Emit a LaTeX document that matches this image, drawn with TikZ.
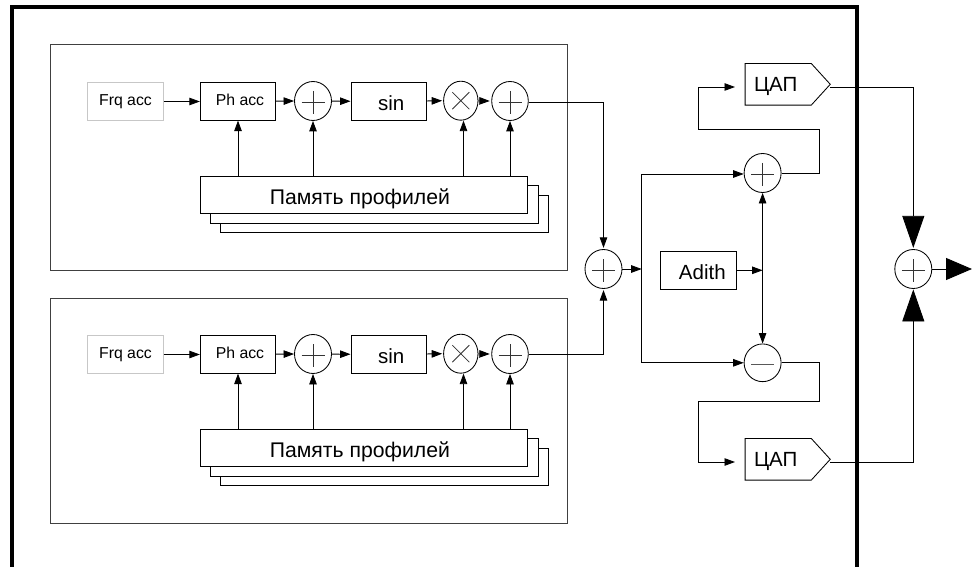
\documentclass[tikz,border=0pt]{standalone}
\usepackage{fontspec}
\setmainfont{Liberation Sans}
\usetikzlibrary{arrows.meta,shapes.geometric,calc}
\tikzset{
  wire/.style={draw=black,line width=0.85pt},
  arr/.style={wire,-{Triangle[length=10.5pt,width=7.5pt]}},
  bigarr/.style={wire,-{Triangle[length=32pt,width=22pt]}},
  frame/.style={draw=black!75,line width=1pt},
  boxbase/.style={wire,rectangle,inner sep=0pt,minimum width=75.5pt,fill=white},
  smallbox/.style={boxbase,font=\fontsize{15.8}{18}\selectfont,text height=22.3pt,text depth=15pt},
  bigbox/.style={boxbase,font=\fontsize{20.5}{24}\selectfont,text height=27.7pt,text depth=9.6pt},
  membox/.style={wire,rectangle,inner sep=0pt,minimum width=327.6pt,minimum height=37.4pt,fill=white},
  dacbox/.style={rectangle,inner sep=0pt,minimum width=84.7pt,text width=84.7pt,align=left,
     font=\fontsize{20.5}{24}\selectfont,text height=28.3pt,text depth=13pt},
  sumcirc/.style={wire,ellipse,inner sep=0pt,minimum width=37pt,minimum height=39pt,fill=white},
  plussign/.style={path picture={
     \draw[line width=0.8pt,black!80] ([xshift=-11.5pt,yshift=-1.5pt]path picture bounding box.center) -- ++(23,0);
     \draw[line width=0.8pt,black!80] ([yshift=10pt]path picture bounding box.center) -- ++(0,23);}},
  timessign/.style={path picture={
     \draw[line width=0.8pt,black!80] ([xshift=-8.5pt,yshift=8.5pt]path picture bounding box.center) -- ++(17,17)
        ([xshift=8.5pt,yshift=8.5pt]path picture bounding box.center) -- ++(-17,17);}},
  minussign/.style={path picture={
     \draw[line width=1pt,black!65] ([xshift=-11.5pt,yshift=-1.5pt]path picture bounding box.center) -- ++(23,0);}},
}
\begin{document}
\begin{tikzpicture}[x=1pt,y=-1pt]
\useasboundingbox (0,0) rectangle (972,567);
\fill[white] (0,0) rectangle (972,567);
\draw[black,line width=4pt] (11.5,567) -- (11.5,6.8) -- (857.3,6.8) -- (857.3,567);

\foreach \s/\dy in {a/0,b/253}{
\begin{scope}[yshift=-\dy pt]
  \node[frame,rectangle,inner sep=0pt,minimum width=517pt,minimum height=225pt] (blk\s) at (308.5,157.5) {};
  \node[smallbox,draw=black!22] (frq\s) at (125.5,101.5) {Frq acc};
  \node[smallbox] (ph\s) at (238,101.5) {\hspace*{4pt}Ph acc};
  \node[sumcirc,plussign] (pa\s) at (313,101) {};
  \node[bigbox] (sin\s) at (388.7,101.5) {\hspace*{5pt}sin};
  \node[sumcirc,timessign,minimum width=34.4pt] (mul\s) at (460.8,100.7) {};
  \node[sumcirc,plussign,minimum width=36.6pt] (pb\s) at (510,101) {};
  \node[membox] (memc\s) at (384.5,214) {};
  \node[membox] (memd\s) at (374.3,204.5) {};
  \node[membox,font=\fontsize{21.2}{24}\selectfont,text height=27.7pt,text depth=9.6pt] (mem\s) at (363.9,195.1) {Память профилей\hspace*{8pt}};
  \draw[arr] (frq\s) -- (ph\s);
  \draw[arr] (ph\s) -- (pa\s.west);
  \draw[arr] (pa\s) -- (sin\s);
  \draw[arr,shorten >=1pt] (sin\s) -- (mul\s.west);
  \draw[arr,shorten >=1.5pt] (mul\s) -- (pb\s.west);
  \draw[arr] (mem\s.north -| ph\s) -- (ph\s);
  \draw[arr] (mem\s.north -| pa\s.south) -- (pa\s.south);
  \draw[arr] ([xshift=2.7pt]mem\s.north -| mul\s.south) -- ([xshift=2.7pt]mul\s.south);
  \draw[arr] (mem\s.north -| pb\s.south) -- (pb\s.south);
\end{scope}
}

\node[sumcirc,plussign] (sumc) at (603.5,269) {};
\draw[arr,shorten >=1.2pt] ([yshift=-1pt]pba.east) -| (sumc.north);
\draw[arr,shorten >=1.2pt] (pbb.east) -| (sumc.south);

\coordinate (junc) at (641.7,269);
\draw[arr] (sumc.east) -- (junc);

\node[sumcirc,plussign] (add) at (762.6,173) {};
\node[sumcirc,minussign,minimum height=37.7pt] (sub) at (762.6,362.8) {};
\node[bigbox] (adith) at (698.3,270.3) {\hspace*{8pt}Adith};
\draw[arr] (junc) |- ([yshift=-1pt]add.west);
\draw[arr] (junc) |- (sub.west);
\coordinate (vj) at (add.south |- adith.east);
\draw[arr] (adith.east) -- (vj);
\draw[wire,{Triangle[length=10.5pt,width=7.5pt]}-{Triangle[length=10.5pt,width=7.5pt]}] (add.south) -- (sub.north);

\node[dacbox] (daca) at (787.7,84.3) {\hspace*{8.7pt}ЦАП};
\node[dacbox] (dacb) at (787.7,459.3) {\hspace*{8.7pt}ЦАП};
\foreach \d in {daca,dacb}{
  \draw[wire] (\d.north west) -- ([xshift=-19pt]\d.north east) -- (\d.east) -- ([xshift=-19pt]\d.south east) -- (\d.south west) -- cycle;
}
\coordinate (ra) at (819,129.3);
\coordinate (la) at (698.3,129.3);
\coordinate (ina) at (735,87);
\coordinate (rb) at (819,401.3);
\coordinate (lb) at (698.3,401.3);
\coordinate (inb) at (735,462);
\draw[arr] (add.east) -| (ra) -- (la) |- (ina);
\draw[arr] (sub.east) -| (rb) -- (lb) |- (inb);

\node[sumcirc,plussign] (sumo) at (913.3,269) {};
\coordinate (out) at (972,269);
\draw[bigarr,shorten >=1.2pt] ([yshift=-2.7pt]daca.east) -| (sumo.north);
\draw[bigarr,shorten >=0.5pt] ([yshift=-2.7pt]dacb.east) -| (sumo.south);
\draw[wire,-{Triangle[length=26pt,width=22pt]}] (sumo.east) -- (out);
\end{tikzpicture}
\end{document}
